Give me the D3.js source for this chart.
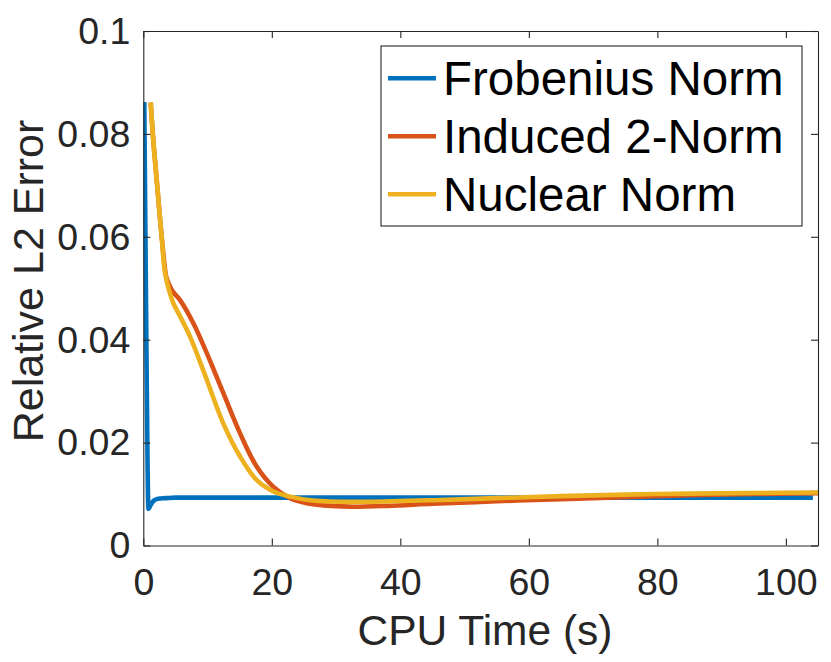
<!DOCTYPE html>
<html>
<head>
<meta charset="utf-8">
<script src="https://cdn.jsdelivr.net/npm/d3@7"></script>
<style>
  html, body { margin: 0; padding: 0; background: #fff; }
  svg { display: block; font-family: "Liberation Sans", Arial, Helvetica, sans-serif; }
</style>
</head>
<body>
<svg id="chart" width="831" height="662"></svg>
<script>
// ---- Data ----
const seriesNames = ["Frobenius Norm", "Induced 2-Norm", "Nuclear Norm"];
const seriesColors = ["#0072BD", "#D95319", "#EDB120"];

const frobeniusTime  = [0.15, 0.35, 0.55, 0.8, 1.1, 1.6, 2.3, 3.5, 5, 10, 20, 40, 60, 80, 104.2];
const frobeniusError = [0.0862, 0.058, 0.030, 0.0071, 0.0078, 0.0087, 0.0091, 0.0092, 0.0093, 0.0093, 0.0093, 0.0093, 0.0093, 0.0093, 0.0093];

const inducedTime  = [1.15, 1.6, 2.09, 2.5, 2.9, 3.4, 3.64, 4.5, 5.72, 7.79, 9.88, 12.46, 15.06, 17.66, 20.25, 22.85, 25.45, 28, 32, 38, 45, 55, 65, 80, 95, 106];
const inducedError = [0.0861, 0.078, 0.0710, 0.065, 0.0595, 0.0535, 0.0519, 0.0495, 0.0477, 0.0432, 0.0374, 0.0296, 0.0218, 0.0153, 0.0114, 0.0092, 0.0082, 0.0078, 0.00755, 0.0077, 0.0081, 0.0086, 0.0090, 0.0096, 0.0100, 0.0102];

const nuclearTime  = [1.15, 1.6, 2.09, 2.5, 2.9, 3.4, 4.67, 5.2, 7.27, 9.88, 12.46, 15.06, 17.66, 20.25, 22.85, 26, 30.6, 35, 45, 55, 65, 80, 95, 106];
const nuclearError = [0.0861, 0.078, 0.0710, 0.065, 0.0595, 0.0529, 0.0471, 0.0458, 0.0406, 0.0322, 0.0237, 0.0173, 0.0127, 0.0105, 0.0095, 0.0088, 0.0085, 0.0085, 0.0088, 0.0092, 0.0096, 0.0100, 0.0102, 0.0103];

const xTicks = [0, 20, 40, 60, 80, 100];
const yTicks = [0, 0.02, 0.04, 0.06, 0.08, 0.1];
const yTickLabels = ["0", "0.02", "0.04", "0.06", "0.08", "0.1"];
const xDomain = [0, 105];
const yDomain = [0, 0.1];
const xTitle = "CPU Time (s)";
const yTitle = "Relative L2 Error";

// ---- Layout ----
const plotLeft = 143.3, plotRight = 818, plotTop = 31, plotBottom = 545.5;
const axisColor = "#262626";

const svg = d3.select("#chart");
const x = d3.scaleLinear().domain(xDomain).range([plotLeft, plotRight]);
const y = d3.scaleLinear().domain(yDomain).range([plotBottom, plotTop]);

// clip
svg.append("defs").append("clipPath").attr("id", "plotclip")
  .append("rect").attr("x", plotLeft).attr("y", plotTop)
  .attr("width", plotRight - plotLeft).attr("height", plotBottom - plotTop);

// lines
const series = [
  { t: frobeniusTime, v: frobeniusError, curve: d3.curveMonotoneX },
  { t: inducedTime, v: inducedError, curve: d3.curveCatmullRom.alpha(0.5) },
  { t: nuclearTime, v: nuclearError, curve: d3.curveCatmullRom.alpha(0.5) }
];
const plot = svg.append("g").attr("clip-path", "url(#plotclip)");
series.forEach((s, i) => {
  const pts = s.t.map((t, j) => [t, s.v[j]]);
  const line = d3.line().x(d => x(d[0])).y(d => y(d[1])).curve(s.curve);
  plot.append("path").datum(pts)
    .attr("d", line)
    .attr("fill", "none")
    .attr("stroke", seriesColors[i])
    .attr("stroke-width", 4.6)
    .attr("stroke-linejoin", "round")
    .attr("stroke-linecap", "butt");
});

// axes
function styleAxis(g) {
  g.selectAll("path.domain").attr("stroke", axisColor).attr("stroke-width", 1.1);
  g.selectAll(".tick line").attr("stroke", axisColor).attr("stroke-width", 1.1);
  g.selectAll("text").attr("fill", axisColor).style("font-size", "37.5px")
    .style("font-family", '"Liberation Sans", Arial, Helvetica, sans-serif');
}

const gx = svg.append("g").attr("transform", `translate(0,${plotBottom})`)
  .call(d3.axisBottom(x).tickValues(xTicks).tickSizeInner(-7).tickSizeOuter(0).tickFormat(d3.format("d")));
gx.selectAll("text").attr("y", 49.5).attr("dy", 0);
styleAxis(gx);

const gxTop = svg.append("g").attr("transform", `translate(0,${plotTop})`)
  .call(d3.axisTop(x).tickValues(xTicks).tickSizeInner(-7).tickSizeOuter(0).tickFormat(""));
styleAxis(gxTop);

const gy = svg.append("g").attr("transform", `translate(${plotLeft},0)`)
  .call(d3.axisLeft(y).tickValues(yTicks).tickSizeInner(-7).tickSizeOuter(0)
    .tickFormat((d, i) => yTickLabels[i]));
gy.selectAll("text").attr("x", -13).attr("dy", "0.33em");
styleAxis(gy);

const gyRight = svg.append("g").attr("transform", `translate(${plotRight},0)`)
  .call(d3.axisRight(y).tickValues(yTicks).tickSizeInner(-7).tickSizeOuter(0).tickFormat(""));
styleAxis(gyRight);

// titles
svg.append("text")
  .attr("x", 485).attr("y", 645)
  .attr("text-anchor", "middle")
  .attr("fill", axisColor)
  .style("font-size", "42.5px")
  .text(xTitle);

svg.append("text")
  .attr("transform", `translate(43,281) rotate(-90)`)
  .attr("text-anchor", "middle")
  .attr("fill", axisColor)
  .style("font-size", "43px")
  .text(yTitle);

// legend
const lg = svg.append("g");
lg.append("rect")
  .attr("x", 381).attr("y", 46).attr("width", 421).attr("height", 180)
  .attr("fill", "#fff").attr("stroke", axisColor).attr("stroke-width", 1.1);
const rowY = [78.3, 136.3, 194.3];
seriesNames.forEach((name, i) => {
  lg.append("line")
    .attr("x1", 388).attr("x2", 436)
    .attr("y1", rowY[i]).attr("y2", rowY[i])
    .attr("stroke", seriesColors[i]).attr("stroke-width", 4.6);
  lg.append("text")
    .attr("x", 443).attr("y", rowY[i]).attr("dy", "0.36em")
    .attr("fill", "#000")
    .style("font-size", "47.5px")
    .text(name);
});
</script>
</body>
</html>
